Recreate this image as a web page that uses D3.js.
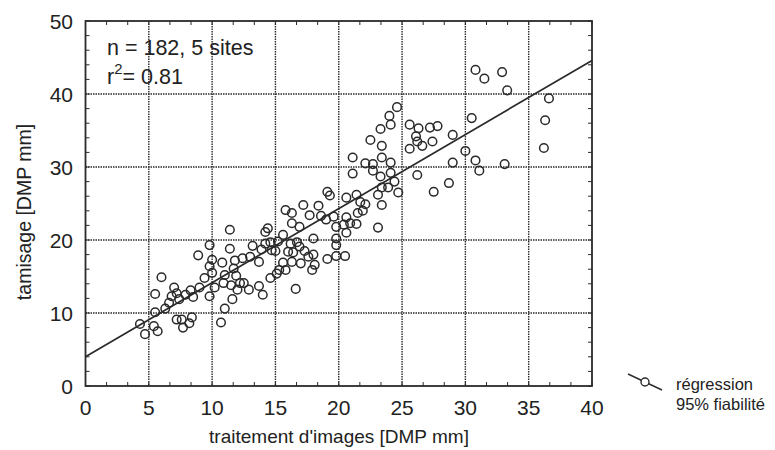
<!DOCTYPE html>
<html>
<head>
<meta charset="utf-8">
<script src="https://cdn.jsdelivr.net/npm/d3@7"></script>
<style>
  body { margin: 0; background: #fff; }
  svg text { font-family: "Liberation Sans", Arial, sans-serif; fill: #222; }
</style>
</head>
<body>
<div id="canvas"></div>
<script>
const width = 775;
const height = 450;

// data (x = traitement d'images, y = tamisage)
const xs = [4.3,4.7,5.4,5.7,5.5,5.5,6.0,6.3,6.6,6.8,7.0,7.2,7.2,7.4,7.6,7.7,7.9,8.2,8.4,8.3,
  8.5,8.9,9.0,9.4,9.8,9.8,9.8,10.0,10.0,10.2,10.7,10.8,10.9,11.0,11.0,11.4,11.4,11.5,11.6,11.7,
  11.8,11.9,12.0,12.2,12.4,12.5,12.9,13.0,13.2,13.7,13.7,14.0,13.9,14.2,14.4,14.2,14.6,14.6,14.7,15.0,
  15.1,15.2,15.3,15.6,15.6,15.8,15.8,16.0,16.2,16.3,16.3,16.3,16.4,16.6,16.7,16.9,16.9,17.0,17.2,17.3,
  17.6,17.7,17.9,18.0,18.0,18.1,18.4,18.6,19.0,19.1,19.3,19.1,19.6,19.8,19.8,19.8,19.8,
  20.6,21.4,21.7,22.1,23.1,23.4,24.7,27.5,20.6,20.4,20.9,21.4,21.5,21.9,20.6,20.5,23.1,
  21.1,21.1,22.1,22.7,22.7,23.4,24.1,23.3,24.1,24.4,26.2,23.9,23.4,24.6,24.0,24.1,23.3,22.5,23.4,
  25.6,26.3,27.2,27.8,26.1,26.2,25.6,26.6,27.4,29.0,30.0,29.0,30.8,31.1,33.1,28.7,30.5,
  30.8,31.5,32.9,33.3,36.6,36.3,36.2];
const ys = [8.5,7.1,8.2,7.5,12.6,10.1,14.9,10.6,11.4,12.3,13.5,12.7,9.1,11.9,9.1,8.0,12.5,8.6,9.4,13.1,
  12.2,17.9,13.5,14.8,19.3,16.4,12.3,17.3,15.5,13.5,8.7,16.9,14.1,10.6,15.2,21.4,18.8,13.8,11.9,16.1,
  17.2,15.1,13.2,14.1,17.5,14.1,13.2,17.7,19.2,17.0,13.7,12.5,18.7,21.1,21.6,19.5,19.7,14.8,18.6,18.5,
  15.4,19.8,15.9,20.7,16.9,15.9,24.1,18.4,19.5,23.7,22.3,17.0,18.3,13.3,19.7,21.8,19.1,16.8,24.8,18.5,
  17.7,23.4,15.9,20.2,18.0,16.6,24.7,23.3,22.8,26.6,26.1,17.4,23.2,21.8,20.2,19.3,17.8,
  25.8,26.2,25.2,24.9,26.2,24.8,26.5,26.6,23.1,22.1,22.3,22.2,23.7,24.0,21.0,17.8,21.7,
  31.3,29.1,30.5,30.4,29.5,31.3,30.6,28.7,29.2,28.0,28.9,27.2,27.2,38.2,37.0,35.8,35.2,33.7,32.9,
  35.8,35.3,35.4,35.6,34.2,33.5,32.5,32.9,33.5,34.4,32.2,30.6,30.9,29.5,30.4,27.8,36.7,
  43.3,42.1,43.0,40.5,39.4,36.4,32.6];

const fitIntercept = 4.0;
const fitSlope = 1.015;
const xTicks = [0,5,10,15,20,25,30,35,40];
const yTicks = [0,10,20,30,40,50];
const ink = "#2a2a2a";

const svg = d3.select("#canvas")
    .append("svg")
    .attr("width", width)
    .attr("height", height);

const x = d3.scaleLinear().domain([0, 40]).range([85.5, 592]);
const y = d3.scaleLinear().domain([0, 50]).range([386, 21]);

// dotted grid
svg.append("g").selectAll("line")
    .data(xTicks.slice(1, -1))
    .join("line")
    .attr("x1", d => x(d)).attr("x2", d => x(d))
    .attr("y1", y(50)).attr("y2", y(0))
    .attr("stroke", ink).attr("stroke-width", 1.4).attr("stroke-dasharray", "1.5,1");
svg.append("g").selectAll("line")
    .data(yTicks.slice(1, -1))
    .join("line")
    .attr("x1", x(0)).attr("x2", x(40))
    .attr("y1", d => y(d)).attr("y2", d => y(d))
    .attr("stroke", ink).attr("stroke-width", 1.4).attr("stroke-dasharray", "1.5,1");

// minor ticks, pointing inward on all four sides
const xMinor = d3.range(0, 40.01, 5 / 3);
const yMinor = d3.range(0, 50.01, 2);
const tk = svg.append("g").attr("stroke", ink).attr("stroke-width", 1);
xMinor.forEach(function(d){
    tk.append("line").attr("x1", x(d)).attr("x2", x(d)).attr("y1", y(0)).attr("y2", y(0) - 4);
    tk.append("line").attr("x1", x(d)).attr("x2", x(d)).attr("y1", y(50)).attr("y2", y(50) + 4);
});
yMinor.forEach(function(d){
    tk.append("line").attr("y1", y(d)).attr("y2", y(d)).attr("x1", x(0)).attr("x2", x(0) + 4);
    tk.append("line").attr("y1", y(d)).attr("y2", y(d)).attr("x1", x(40)).attr("x2", x(40) - 4);
});

// frame
svg.append("rect")
    .attr("x", x(0)).attr("y", y(50))
    .attr("width", x(40) - x(0)).attr("height", y(0) - y(50))
    .attr("fill", "none").attr("stroke", ink).attr("stroke-width", 1.8);

// tick labels
svg.append("g").selectAll("text")
    .data(xTicks)
    .join("text")
    .attr("x", d => x(d)).attr("y", 415)
    .attr("text-anchor", "middle")
    .attr("font-size", 21)
    .text(d => d);
svg.append("g").selectAll("text")
    .data(yTicks)
    .join("text")
    .attr("x", 73).attr("y", d => y(d) + 7.5)
    .attr("text-anchor", "end")
    .attr("font-size", 21)
    .text(d => d);

// axis titles
svg.append("text")
    .attr("x", 339).attr("y", 443)
    .attr("text-anchor", "middle")
    .attr("font-size", 19)
    .text("traitement d'images [DMP mm]");
svg.append("text")
    .attr("transform", "translate(31,212) rotate(-90)")
    .attr("text-anchor", "middle")
    .attr("font-size", 19.5)
    .text("tamisage [DMP mm]");

// regression line
svg.append("line")
    .attr("x1", x(0)).attr("y1", y(fitIntercept))
    .attr("x2", x(40)).attr("y2", y(fitIntercept + fitSlope * 40))
    .attr("stroke", ink).attr("stroke-width", 1.7);

// points
svg.append("g").selectAll("circle")
    .data(d3.range(xs.length))
    .join("circle")
    .attr("cx", i => x(xs[i]))
    .attr("cy", i => y(ys[i]))
    .attr("r", 4.3)
    .attr("fill", "none")
    .attr("stroke", ink)
    .attr("stroke-width", 1.5);

// annotation
svg.append("text")
    .attr("x", 107).attr("y", 55)
    .attr("font-size", 21.5)
    .text("n = 182, 5 sites");
const r2 = svg.append("text")
    .attr("x", 107).attr("y", 84)
    .attr("font-size", 21.5);
r2.append("tspan").text("r");
r2.append("tspan").attr("font-size", 15).attr("dy", -10).text("2");
r2.append("tspan").attr("dy", 10).text("= 0.81");

// legend
svg.append("line")
    .attr("x1", 628).attr("y1", 374)
    .attr("x2", 662).attr("y2", 390)
    .attr("stroke", ink).attr("stroke-width", 1.4);
svg.append("circle")
    .attr("cx", 645).attr("cy", 382).attr("r", 4)
    .attr("fill", "#fff").attr("stroke", ink).attr("stroke-width", 1.4);
svg.append("text")
    .attr("x", 676).attr("y", 390)
    .attr("font-size", 16.5)
    .text("régression");
svg.append("text")
    .attr("x", 676).attr("y", 410)
    .attr("font-size", 16.5)
    .text("95% fiabilité");
</script>
</body>
</html>
